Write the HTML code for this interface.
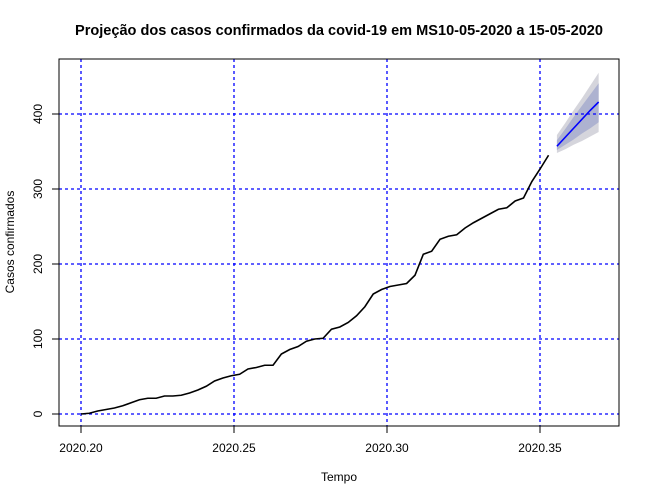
<!DOCTYPE html>
<html><head><meta charset="utf-8"><style>
body{margin:0;background:#fff;}
svg{display:block;font-family:"Liberation Sans",sans-serif;}
</style></head><body>
<svg id="chart" width="650" height="500" xmlns="http://www.w3.org/2000/svg">
<text x="339" y="35" text-anchor="middle" font-size="14.55" font-weight="bold">Projeção dos casos confirmados da covid-19 em MS10-05-2020 a 15-05-2020</text>
<text x="339" y="481" text-anchor="middle" font-size="12">Tempo</text>
<text transform="translate(14,242) rotate(-90)" text-anchor="middle" font-size="12">Casos confirmados</text>
<g id="bands"></g><g id="grid"></g><g id="lines"></g><g id="axes"></g>
<rect x="59" y="59" width="560" height="367" fill="none" stroke="#000"/>
</svg>
<script>
const observed = [0,1,4,6,8,11,15,19,21,21,24,24,25,28,32,37,44,48,51,53,60,62,65,65,80,86,90,97,100,101,113,116,122,131,143,160,166,170,172,174,185,213,217,233,237,239,248,255,261,267,273,275,284,288,310,327,345];
const fcMean = [357,369,381,393,405,416];
const hi95 = [372,388,405,421,438,455];
const lo95 = [348,353,359,364,370,376];
const hi80 = [365,380,396,411,426,441];
const lo80 = [352,359,366,374,381,389];
const xTicks = [2020.20,2020.25,2020.30,2020.35];
const xTickLabels = ["2020.20","2020.25","2020.30","2020.35"];
const yTicks = [0,100,200,300,400];
const startT = 2020.2, step = 1/366.5;

const xs = t => 81 + (t - 2020.2) / 0.05 * 153;
const ys = v => 414 - v * 0.75;
const NS = "http://www.w3.org/2000/svg";
function mk(tag, parent, attrs){const e=document.createElementNS(NS,tag);for(const k in attrs)e.setAttribute(k,attrs[k]);document.getElementById(parent).appendChild(e);return e;}
const n0 = observed.length;
const fx = i => xs(startT + (n0 + i) * step);

function band(hi, lo, fill, name){
  const pts = hi.map((v,i)=>fx(i)+","+ys(v)).concat(lo.map((v,i)=>fx(i)+","+ys(v)).reverse());
  const p = mk("polygon","bands",{points:pts.join(" "),fill:fill});
  
  
}
band(hi95, lo95, "#d5d5dc", "band-95");
band(hi80, lo80, "#adb2d0", "band-80");

xTicks.forEach((t,i)=>{
  const x = xs(t);
  const g = mk("line","grid",{x1:x,x2:x,y1:59,y2:426,stroke:"#0000ff","stroke-dasharray":"3,3","stroke-width":1.3});
  
  
  mk("line","axes",{x1:x,x2:x,y1:426,y2:433,stroke:"#000"});
  const l = mk("text","axes",{x:x,y:452,"text-anchor":"middle","font-size":12});
  l.textContent = xTickLabels[i];
  
  
});
yTicks.forEach(v=>{
  const y = ys(v);
  const g = mk("line","grid",{x1:59,x2:619,y1:y,y2:y,stroke:"#0000ff","stroke-dasharray":"3,3","stroke-width":1.3});
  
  
  mk("line","axes",{x1:52,x2:59,y1:y,y2:y,stroke:"#000"});
  const l = mk("text","axes",{transform:`translate(42,${y}) rotate(-90)`,"text-anchor":"middle","font-size":12});
  l.textContent = v;
  
  
});
const obs = mk("polyline","lines",{points:observed.map((v,i)=>xs(startT+i*step)+","+ys(v)).join(" "),fill:"none",stroke:"#000","stroke-width":1.6});


const fc = mk("polyline","lines",{points:fcMean.map((v,i)=>fx(i)+","+ys(v)).join(" "),fill:"none",stroke:"#0000ff","stroke-width":1.6});


</script>
</body></html>
